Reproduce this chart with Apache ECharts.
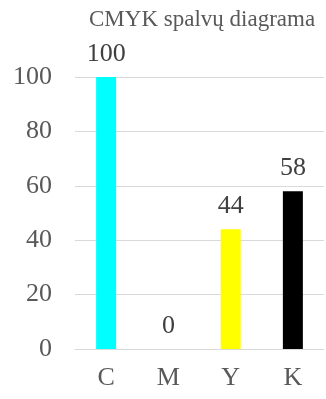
<!DOCTYPE html>
<html><head><meta charset="utf-8">
<script src="https://cdn.jsdelivr.net/npm/echarts@6/dist/echarts.min.js"></script>
<style>html,body{margin:0;padding:0;background:#fff}#c{width:326px;height:399px}</style>
</head><body><div id="c"></div>
<script>
const categories = ['C', 'M', 'Y', 'K'];
const values = [100, 0, 44, 58];
const barColors = ['#00FFFF', '#FF00FF', '#FFFF00', '#000000'];
const yTicks = {min: 0, max: 100, interval: 20};
const titleText = 'CMYK spalvų diagrama';

const chart = echarts.init(document.getElementById('c'), null, {renderer: 'canvas'});
const font = 'Liberation Serif';
chart.setOption({
  animation: false,
  backgroundColor: '#fff',
  title: {
    text: titleText,
    left: 84, top: 3,
    textStyle: {fontFamily: font, fontSize: 23, fontWeight: 'normal', color: '#595959'}
  },
  grid: {left: 75, right: 2, top: 77, bottom: 50, containLabel: false},
  xAxis: {
    type: 'category', data: categories,
    axisLine: {lineStyle: {color: '#d9d9d9', width: 1}},
    axisTick: {show: false},
    axisLabel: {fontFamily: font, fontSize: 26, color: '#595959', margin: 16}
  },
  yAxis: {
    type: 'value', min: yTicks.min, max: yTicks.max, interval: yTicks.interval,
    axisLine: {show: false}, axisTick: {show: false},
    splitLine: {lineStyle: {color: '#d9d9d9', width: 1}},
    axisLabel: {fontFamily: font, fontSize: 26, color: '#595959', margin: 23}
  },
  series: [{
    type: 'bar',
    barWidth: 20,
    data: values.map((v, i) => ({value: v, itemStyle: {color: barColors[i]}})),
    label: {show: true, position: 'top', distance: 10, fontFamily: font, fontSize: 26, color: '#404040'}
  }]
});
</script></body></html>
